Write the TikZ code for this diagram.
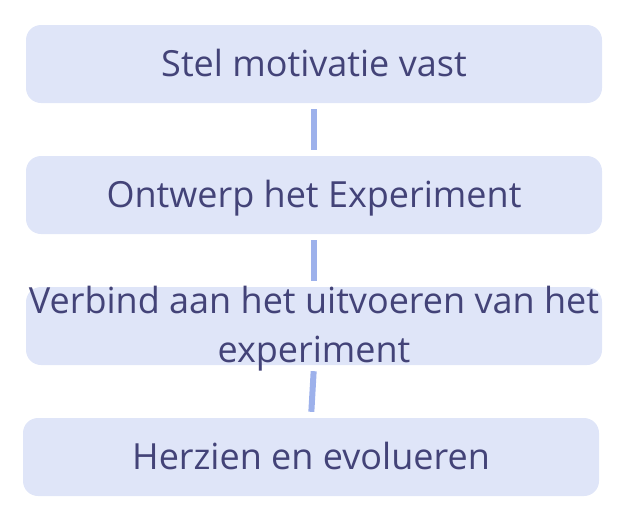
\documentclass[tikz,border=0pt]{standalone}
\usepackage{fontspec}
\setmainfont{Open Sans}
\definecolor{boxfill}{HTML}{DFE5F8}
\definecolor{txt}{HTML}{434378}
\definecolor{conn}{HTML}{9DB1EB}
\begin{document}
\begin{tikzpicture}[x=1pt,y=-1pt,
  stepbox/.style={fill=boxfill,draw=none,rounded corners=15pt,minimum width=576pt,minimum height=78pt,inner sep=0pt},
  steptext/.style={text=txt,font=\fontsize{36}{49}\selectfont,align=center,inner sep=0pt},
  link/.style={draw=conn,line width=6pt,shorten >=6pt,shorten <=6pt}]
\useasboundingbox (0,0) rectangle (620,520);
\node[stepbox] (b1) at (314,64) {};
\node[stepbox] (b2) at (314,195) {};
\node[stepbox] (b3) at (314,326) {};
\node[stepbox] (b4) at (311,457) {};
\node[steptext,anchor=base] (t1) at ([yshift=-12.7pt]b1.center) {Stel motivatie vast};
\node[steptext,anchor=base] (t2) at ([yshift=-12.7pt]b2.center) {Ontwerp het Experiment};
\node[steptext] (t3) at ([yshift=-3pt]b3.center) {Verbind aan het uitvoeren van het\\experiment};
\node[steptext,anchor=base] (t4) at ([yshift=-12.7pt]b4.center) {Herzien en evolueren};
\draw[link] (b1.south) -- (b2.north);
\draw[link] (b2.south) -- (b3.north);
\draw[link] (b3.south) -- (b4.north);
\end{tikzpicture}
\end{document}
